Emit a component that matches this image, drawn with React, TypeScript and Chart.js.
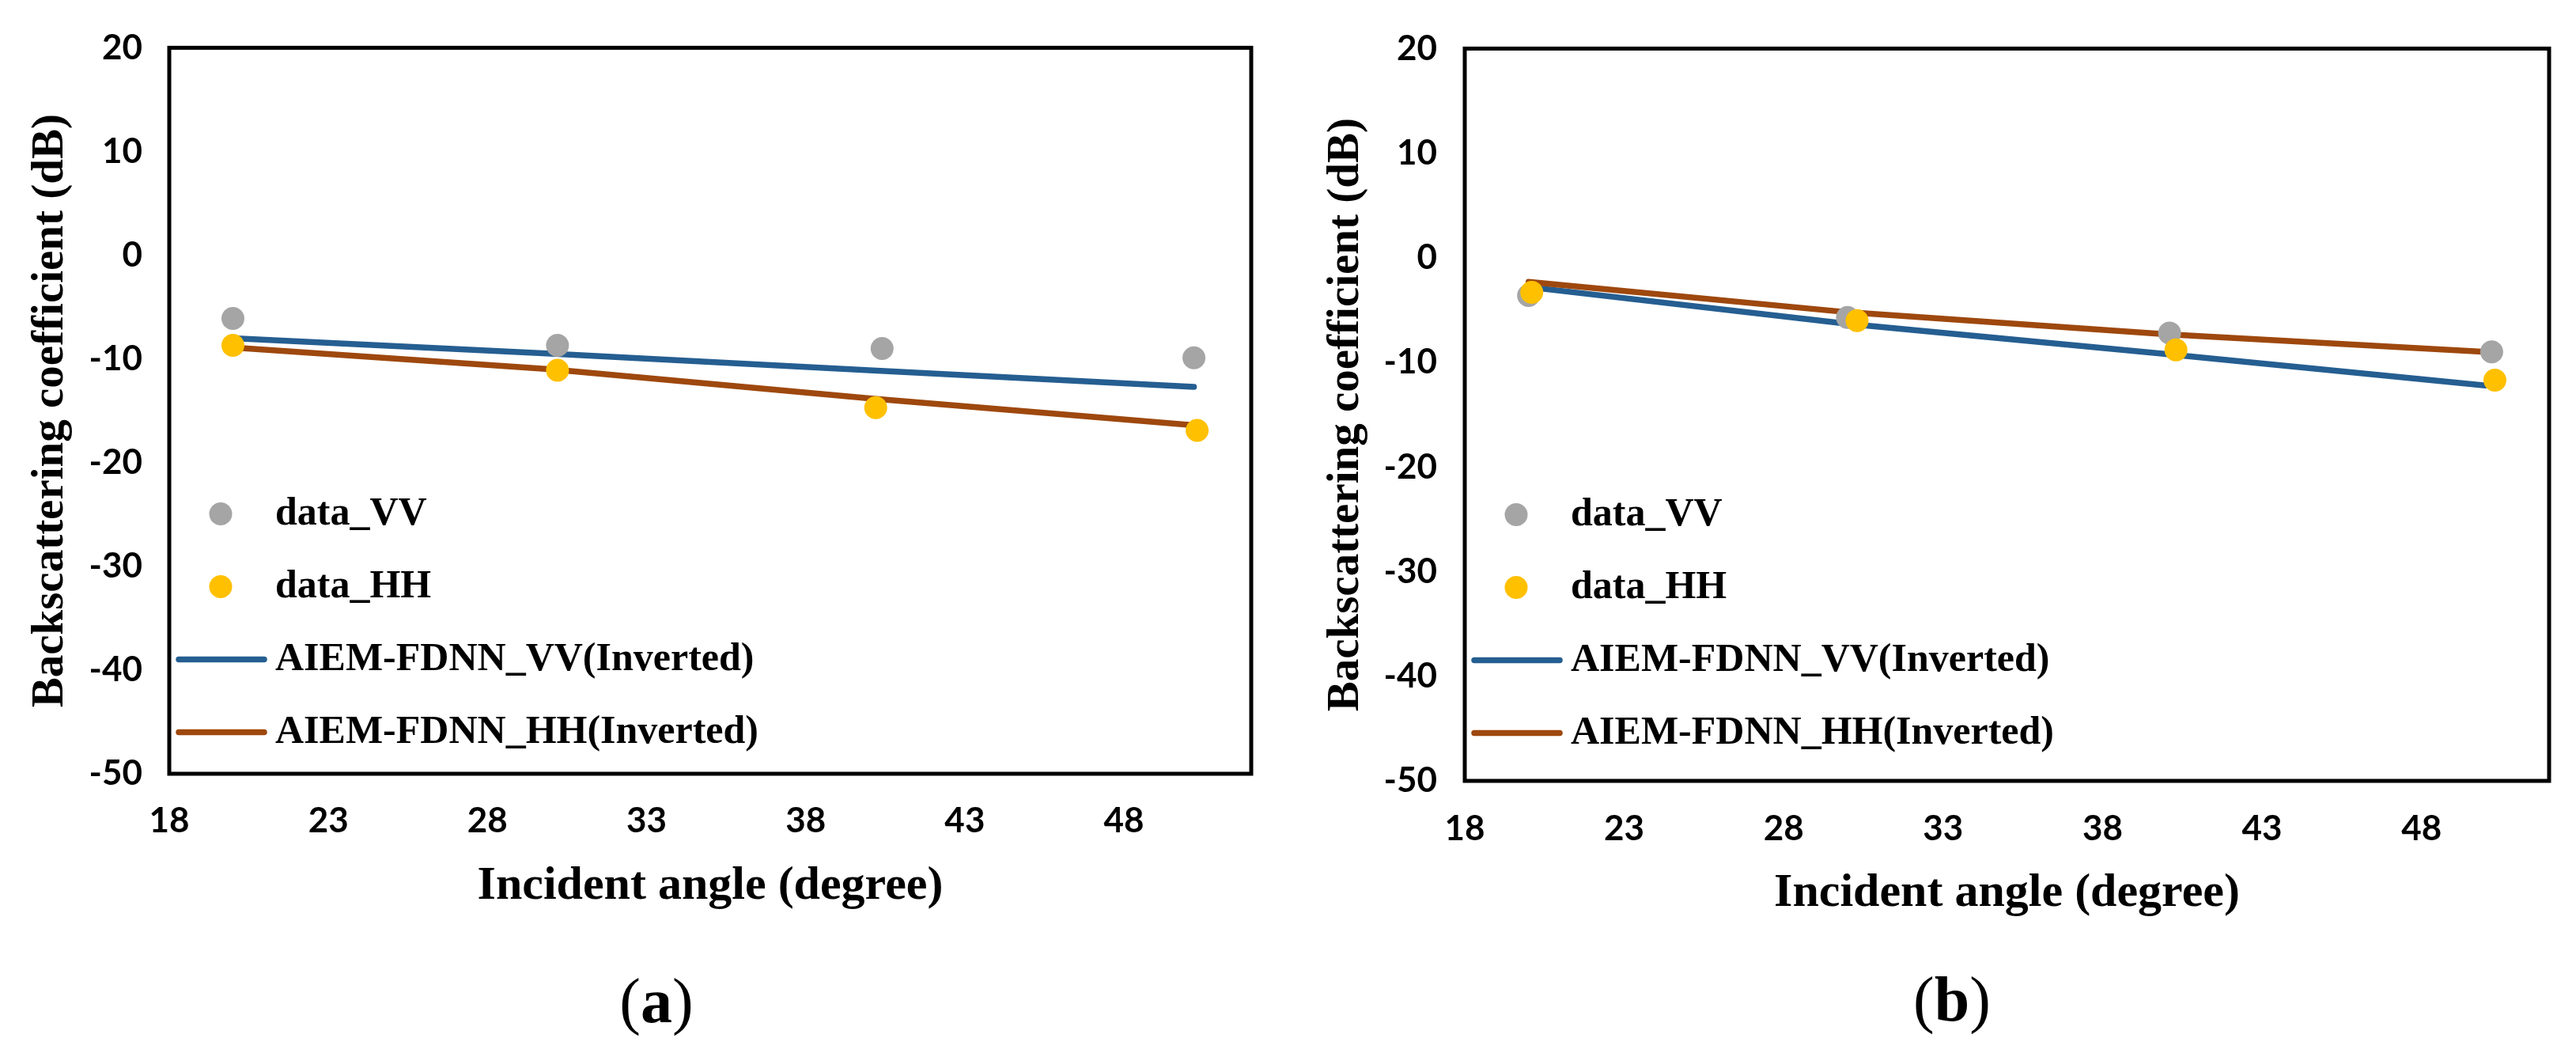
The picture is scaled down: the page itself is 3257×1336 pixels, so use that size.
import React, { useEffect, useRef } from 'react';
import { Chart, registerables } from 'chart.js';

Chart.register(...registerables);

// ---------- data ----------
const X_TICKS = [18, 23, 28, 33, 38, 43, 48];
const Y_TICKS = [20, 10, 0, -10, -20, -30, -40, -50];
const X_MIN = 18;
const X_MAX = 52;
const Y_MIN = -50;
const Y_MAX = 20;

const SERIES_NAMES = ['data_VV', 'data_HH', 'AIEM-FDNN_VV(Inverted)', 'AIEM-FDNN_HH(Inverted)'];
const X_TITLE = 'Incident angle (degree)';
const Y_TITLE = 'Backscattering coefficient (dB)';

// panel (a)
const A_VV_X = [20, 30.2, 40.4, 50.2];
const A_VV_Y = [-6.1, -8.7, -9.0, -9.9];
const A_HH_X = [20, 30.2, 40.2, 50.3];
const A_HH_Y = [-8.7, -11.1, -14.7, -16.9];
const A_FIT_X = [20, 30, 40, 50.2];
const A_FIT_VV = [-8.0, -9.5, -11.1, -12.7];
const A_FIT_HH = [-8.9, -11.0, -13.8, -16.4];

// panel (b)
const B_VV_X = [20, 30, 40.1, 50.2];
const B_VV_Y = [-3.6, -5.7, -7.2, -9.0];
const B_HH_X = [20.1, 30.3, 40.3, 50.3];
const B_HH_Y = [-3.3, -6.0, -8.8, -11.7];
const B_FIT_X = [20, 30, 40, 50];
const B_FIT_VV = [-2.8, -6.3, -9.2, -12.2];
const B_FIT_HH = [-2.3, -5.2, -7.3, -9.0];

// ---------- style ----------
const GRAY = '#A5A5A5';
const YELLOW = '#FFC000';
const BLUE = '#255E91';
const BROWN = '#9E480E';
const SERIF = '"Liberation Serif", "Times New Roman", serif';
const SANS = 'Lato, "Noto Sans", sans-serif';

const toPts = (xs: number[], ys: number[]) => xs.map((x, i) => ({ x, y: ys[i] }));

const framePlugin = {
  id: 'plotFrame',
  afterDatasetsDraw(chart: any) {
    const { ctx, chartArea } = chart;
    const { left, top, right, bottom } = chartArea;
    ctx.save();
    ctx.lineWidth = 5;
    ctx.strokeStyle = '#000';
    ctx.lineJoin = 'miter';
    ctx.strokeRect(left, top, right - left, bottom - top);
    ctx.restore();
  },
};

const innerLegendPlugin = {
  id: 'innerLegend',
  afterDraw(chart: any, _args: any, opts: any) {
    const { ctx, chartArea } = chart;
    const x0 = chartArea.left;
    ctx.save();
    chart.data.datasets.forEach((ds: any, i: number) => {
      const y = chartArea.top + opts.firstY + i * opts.gap;
      if (ds.showLine === false) {
        ctx.beginPath();
        ctx.fillStyle = ds.backgroundColor;
        ctx.arc(x0 + opts.markerX, y, ds.pointRadius, 0, Math.PI * 2);
        ctx.fill();
      } else {
        ctx.beginPath();
        ctx.strokeStyle = ds.borderColor;
        ctx.lineWidth = ds.borderWidth;
        ctx.lineCap = 'round';
        ctx.moveTo(x0 + opts.lineX0, y);
        ctx.lineTo(x0 + opts.lineX1, y);
        ctx.stroke();
      }
      ctx.fillStyle = '#000';
      ctx.font = `bold ${opts.fontSize}px ${SERIF}`;
      ctx.textAlign = 'left';
      ctx.textBaseline = 'middle';
      ctx.fillText(ds.label, x0 + opts.textX, y + 1);
    });
    ctx.restore();
  },
};

type PanelData = {
  vvX: number[]; vvY: number[]; hhX: number[]; hhY: number[];
  fitX: number[]; fitVV: number[]; fitHH: number[];
};

type Geom = {
  width: number; height: number; padTop: number; padRight: number;
  yAxisW: number; xAxisH: number; yTickPad: number; xTickPad: number;
  yTitlePad: number; xTitlePad: number;
};

function makeConfig(d: PanelData, g: Geom): any {
  const pointDs = (label: string, color: string, xs: number[], ys: number[], order: number) => ({
    label,
    data: toPts(xs, ys),
    showLine: false,
    backgroundColor: color,
    borderColor: color,
    pointRadius: 14.5,
    pointBorderWidth: 0,
    pointHoverRadius: 14.5,
    order,
  });
  const lineDs = (label: string, color: string, xs: number[], ys: number[], order: number) => ({
    label,
    data: toPts(xs, ys),
    showLine: true,
    borderColor: color,
    backgroundColor: color,
    borderWidth: 7.5,
    borderCapStyle: 'round',
    borderJoinStyle: 'round',
    pointRadius: 0,
    pointHoverRadius: 0,
    tension: 0,
    fill: false,
    order,
  });
  return {
    type: 'line',
    data: {
      datasets: [
        pointDs(SERIES_NAMES[0], GRAY, d.vvX, d.vvY, 1),
        pointDs(SERIES_NAMES[1], YELLOW, d.hhX, d.hhY, 0),
        lineDs(SERIES_NAMES[2], BLUE, d.fitX, d.fitVV, 3),
        lineDs(SERIES_NAMES[3], BROWN, d.fitX, d.fitHH, 2),
      ],
    },
    options: {
      responsive: false,
      animation: false,
      devicePixelRatio: 1,
      events: [],
      layout: { padding: { top: g.padTop, right: g.padRight, left: 0, bottom: 0 } },
      plugins: {
        legend: { display: false },
        tooltip: { enabled: false },
        innerLegend: {
          firstY: 589, gap: 92, markerX: 65, lineX0: 12, lineX1: 120, textX: 134, fontSize: 50,
        },
      },
      scales: {
        x: {
          type: 'linear',
          min: X_MIN,
          max: X_MAX,
          afterBuildTicks: (s: any) => { s.ticks = X_TICKS.map((v) => ({ value: v })); },
          afterFit: (s: any) => { s.height = g.xAxisH; },
          grid: { display: false, drawTicks: false },
          border: { display: false },
          ticks: {
            color: '#000',
            font: { family: SANS, weight: 'bold', size: 44 },
            padding: g.xTickPad,
            maxRotation: 0,
            autoSkip: false,
          },
          title: {
            display: true,
            text: X_TITLE,
            color: '#000',
            font: { family: SERIF, weight: 'bold', size: 60 },
            padding: { top: g.xTitlePad, bottom: g.xTitlePad },
          },
        },
        y: {
          type: 'linear',
          min: Y_MIN,
          max: Y_MAX,
          afterBuildTicks: (s: any) => { s.ticks = Y_TICKS.map((v) => ({ value: v })); },
          afterFit: (s: any) => { s.width = g.yAxisW; },
          grid: { display: false, drawTicks: false },
          border: { display: false },
          ticks: {
            color: '#000',
            font: { family: SANS, weight: 'bold', size: 44 },
            padding: g.yTickPad,
          },
          title: {
            display: true,
            text: Y_TITLE,
            color: '#000',
            font: { family: SERIF, weight: 'bold', size: 57 },
            padding: { top: g.yTitlePad, bottom: g.yTitlePad },
          },
        },
      },
    },
    plugins: [framePlugin, innerLegendPlugin],
  };
}

const PANEL_A: PanelData = {
  vvX: A_VV_X, vvY: A_VV_Y, hhX: A_HH_X, hhY: A_HH_Y, fitX: A_FIT_X, fitVV: A_FIT_VV, fitHH: A_FIT_HH,
};
const PANEL_B: PanelData = {
  vvX: B_VV_X, vvY: B_VV_Y, hhX: B_HH_X, hhY: B_HH_Y, fitX: B_FIT_X, fitVV: B_FIT_VV, fitHH: B_FIT_HH,
};

const GEOM_A: Geom = {
  width: 1630, height: 1200, padTop: 41.5, padRight: 48, yAxisW: 214, xAxisH: 222,
  yTickPad: 34, xTickPad: 33, yTitlePad: 30, xTitlePad: 44,
};
const GEOM_B: Geom = {
  width: 1627, height: 1210, padTop: 47, padRight: 34, yAxisW: 222, xAxisH: 223,
  yTickPad: 35, xTickPad: 34, yTitlePad: 38, xTitlePad: 45,
};

function Panel({ data, geom, left }: { data: PanelData; geom: Geom; left: number }) {
  const ref = useRef<HTMLCanvasElement | null>(null);
  useEffect(() => {
    if (!ref.current) return;
    const chart = new Chart(ref.current, makeConfig(data, geom));
    return () => chart.destroy();
  }, [data, geom]);
  return (
    <canvas
      ref={ref}
      width={geom.width}
      height={geom.height}
      style={{ position: 'absolute', left, top: 0, width: geom.width, height: geom.height }}
    />
  );
}

function PanelLabel({ letter, cx, top }: { letter: string; cx: number; top: number }) {
  return (
    <div
      style={{
        position: 'absolute',
        left: cx - 100,
        top,
        width: 200,
        textAlign: 'center',
        fontFamily: SERIF,
        fontSize: 80,
        lineHeight: '80px',
        color: '#000',
      }}
    >
      (<b>{letter}</b>)
    </div>
  );
}

export default function App() {
  return (
    <div
      style={{
        position: 'absolute',
        left: 0,
        top: 0,
        width: 3257,
        height: 1336,
        background: '#fff',
        overflow: 'hidden',
      }}
    >
      <Panel data={PANEL_A} geom={GEOM_A} left={0} />
      <Panel data={PANEL_B} geom={GEOM_B} left={1630} />
      <PanelLabel letter="a" cx={830} top={1225} />
      <PanelLabel letter="b" cx={2468} top={1223} />
    </div>
  );
}
